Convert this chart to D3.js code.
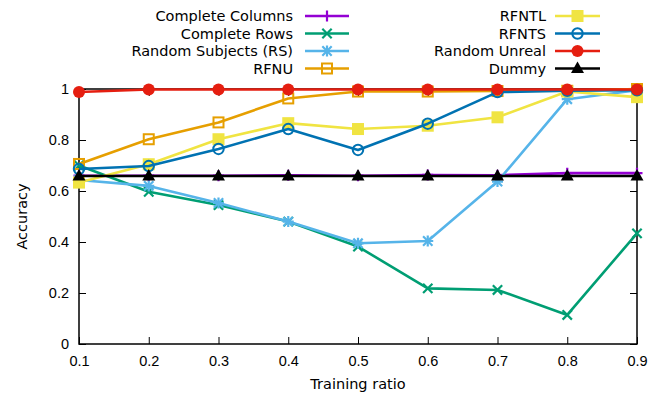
<!DOCTYPE html>
<html>
<head>
<meta charset="utf-8">
<script src="https://cdn.jsdelivr.net/npm/d3@7"></script>
<style>
  body { margin: 0; background: #fff; }
  svg { display: block; font-family: "DejaVu Sans", sans-serif; }
</style>
</head>
<body>
<div id="chart"></div>
<script>
// data
const ratios = [0.1, 0.2, 0.3, 0.4, 0.5, 0.6, 0.7, 0.8, 0.9];
const completeColumns = [0.660, 0.660, 0.660, 0.662, 0.660, 0.663, 0.662, 0.670, 0.670];
const completeRows = [0.700, 0.597, 0.545, 0.480, 0.382, 0.218, 0.212, 0.114, 0.434];
const randomSubjects = [0.643, 0.620, 0.553, 0.480, 0.395, 0.404, 0.637, 0.960, 0.995];
const rfnu = [0.706, 0.803, 0.869, 0.963, 0.990, 0.990, 0.992, 0.993, 1.000];
const rfntl = [0.633, 0.705, 0.803, 0.866, 0.843, 0.856, 0.889, 0.990, 0.968];
const rfnts = [0.686, 0.698, 0.765, 0.843, 0.761, 0.864, 0.988, 0.993, 0.995];
const randomUnreal = [0.988, 0.998, 0.998, 0.998, 0.998, 0.998, 0.998, 0.998, 0.998];
const dummy = [0.659, 0.659, 0.659, 0.659, 0.659, 0.659, 0.659, 0.659, 0.659];
const names = ["Complete Columns", "Complete Rows", "Random Subjects (RS)", "RFNU",
               "RFNTL", "RFNTS", "Random Unreal", "Dummy"];
const yTicks = [0, 0.2, 0.4, 0.6, 0.8, 1];

const colors = ["#9400d3", "#009e73", "#56b4e9", "#e69f00", "#f0e442", "#0072b2", "#e51e10", "#000000"];
const markers = ["plus", "cross", "star", "square", "squareFill", "circle", "circleFill", "triangleFill"];
const allValues = [completeColumns, completeRows, randomSubjects, rfnu, rfntl, rfnts, randomUnreal, dummy];

const series = names.map((name, i) => ({
    name, color: colors[i], marker: markers[i],
    values: ratios.map((r, j) => ({x: r, y: allValues[i][j]}))
}));

const width = 664, height = 399;
const margin = {left: 79, right: 27, top: 89, bottom: 55};
const fs = "14.5px";

const svg = d3.select("#chart").append("svg")
    .attr("width", width).attr("height", height);

const x = d3.scaleLinear().domain([0.1, 0.9]).range([margin.left, width - margin.right]);
const y = d3.scaleLinear().domain([0, 1]).range([height - margin.bottom, margin.top]);

// axes, ticks pointing inward like gnuplot
const axisStyle = g => {
    g.select(".domain").remove();
    g.selectAll(".tick line").attr("stroke", "#000").attr("stroke-width", 1);
    g.selectAll(".tick text").attr("fill", "#000").style("font-size", fs);
};
svg.append("g").attr("transform", `translate(0,${y(0)})`)
    .call(d3.axisBottom(x).tickValues(ratios).tickSize(-7).tickPadding(12).tickFormat(d3.format(".1f")))
    .call(axisStyle);
svg.append("g").attr("transform", `translate(0,${y(1)})`)
    .call(d3.axisTop(x).tickValues(ratios).tickSize(-7).tickFormat(""))
    .call(axisStyle);
svg.append("g").attr("transform", `translate(${x(0.1)},0)`)
    .call(d3.axisLeft(y).tickValues(yTicks).tickSize(-7).tickPadding(10).tickFormat(d3.format("~g")))
    .call(axisStyle);
svg.append("g").attr("transform", `translate(${x(0.9)},0)`)
    .call(d3.axisRight(y).tickValues(yTicks).tickSize(-7).tickFormat(""))
    .call(axisStyle);

svg.append("rect")
    .attr("x", x(0.1)).attr("y", y(1))
    .attr("width", x(0.9) - x(0.1)).attr("height", y(0) - y(1))
    .attr("fill", "none").attr("stroke", "#000").attr("stroke-width", 1.5);

svg.append("text").attr("transform", `translate(27,${(y(0) + y(1)) / 2}) rotate(-90)`)
    .attr("text-anchor", "middle").style("font-size", fs).text("Accuracy");
svg.append("text").attr("x", (x(0.1) + x(0.9)) / 2).attr("y", 389)
    .attr("text-anchor", "middle").style("font-size", fs).text("Training ratio");

function drawMarker(g, type, color, cx, cy) {
    const s = 5.5;
    const sw = 2.2;
    if (type === "plus" || type === "star") {
        g.append("path").attr("d", `M${cx - s},${cy}H${cx + s}M${cx},${cy - s}V${cy + s}`)
            .attr("stroke", color).attr("stroke-width", sw).attr("fill", "none");
    }
    if (type === "cross" || type === "star") {
        const d = s * 0.85;
        g.append("path").attr("d", `M${cx - d},${cy - d}L${cx + d},${cy + d}M${cx - d},${cy + d}L${cx + d},${cy - d}`)
            .attr("stroke", color).attr("stroke-width", sw).attr("fill", "none");
    }
    if (type === "square") {
        g.append("rect").attr("x", cx - 5).attr("y", cy - 5).attr("width", 10).attr("height", 10)
            .attr("fill", "none").attr("stroke", color).attr("stroke-width", 2);
    }
    if (type === "squareFill") {
        g.append("rect").attr("x", cx - 6).attr("y", cy - 6).attr("width", 12).attr("height", 12)
            .attr("fill", color);
    }
    if (type === "circle") {
        g.append("circle").attr("cx", cx).attr("cy", cy).attr("r", 5.2)
            .attr("fill", "none").attr("stroke", color).attr("stroke-width", 2);
    }
    if (type === "circleFill") {
        g.append("circle").attr("cx", cx).attr("cy", cy).attr("r", 6).attr("fill", color);
    }
    if (type === "triangleFill") {
        g.append("path").attr("d", `M${cx},${cy - 7}L${cx + 6.5},${cy + 4.5}L${cx - 6.5},${cy + 4.5}Z`)
            .attr("fill", color);
    }
}

const line = d3.line().x(d => x(d.x)).y(d => y(d.y));

series.forEach(s => {
    const g = svg.append("g");
    g.append("path").datum(s.values).attr("d", line)
        .attr("fill", "none").attr("stroke", s.color).attr("stroke-width", 2.6)
        .attr("stroke-linejoin", "round");
    s.values.forEach(d => drawMarker(g, s.marker, s.color, x(d.x), y(d.y)));
});

// legend in two columns
const legendRows = [16, 33.5, 51, 68.5];
const columns = [{textEnd: 293, x0: 305, x1: 349}, {textEnd: 546, x0: 555, x1: 600}];
series.forEach((s, i) => {
    const c = columns[Math.floor(i / 4)];
    const ry = legendRows[i % 4];
    const g = svg.append("g");
    g.append("text").attr("x", c.textEnd).attr("y", ry + 5)
        .attr("text-anchor", "end").style("font-size", fs).text(s.name);
    g.append("line").attr("x1", c.x0).attr("x2", c.x1).attr("y1", ry).attr("y2", ry)
        .attr("stroke", s.color).attr("stroke-width", 2.6);
    drawMarker(g, s.marker, s.color, (c.x0 + c.x1) / 2, ry);
});
</script>
</body>
</html>
